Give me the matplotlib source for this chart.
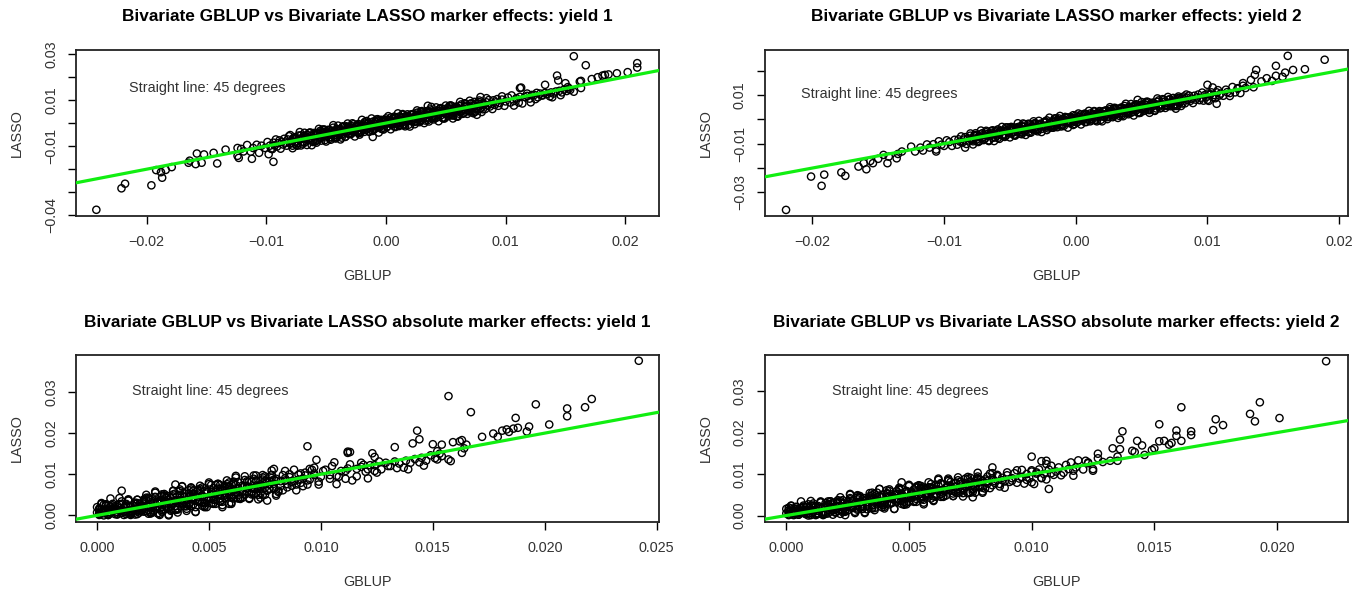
import numpy as np
import matplotlib
matplotlib.use("Agg")
import matplotlib.pyplot as plt

plt.rcParams['font.family'] = ['Liberation Sans', 'DejaVu Sans']

# ---------------------------------------------------------------
# Data: marker effects, in units of 1e-4
# (GBLUP, LASSO) pairs
# ---------------------------------------------------------------
UNIT = 1e-4

YIELD1_BAND = [
    (-124, -142), (-121, -112), (-119, -123), (-116, -95), (-113, -124), (-111, -108), (-108, -94),
    (-106, -129), (-104, -98), (-101, -108), (-99, -82), (-97, -98), (-96, -111),
    (-95, -113), (-94, -85), (-93, -97), (-92, -71), (-91, -102), (-90, -87), (-89, -75), (-88, -111), (-87, -81), (-86, -93),
    (-85, -68), (-84, -85), (-83, -98), (-82, -71), (-81, -57), (-80, -89), (-79, -77), (-78, -98), (-77, -64), (-76, -81),
    (-75, -67), (-74, -87), (-73, -54), (-72, -72), (-71, -97), (-70, -65), (-69, -57), (-68, -85), (-67, -66), (-66, -50),
    (-65, -73), (-64, -42), (-63, -66), (-62, -55), (-61, -75), (-60, -50), (-59, -80), (-58, -76), (-57, -48), (-56, -60),
    (-55, -34), (-54, -65), (-53, -50), (-52, -38), (-51, -74), (-50, -44), (-49, -56), (-48, -31), (-47, -48), (-46, -61),
    (-45, -34), (-44, -20), (-43, -52), (-42, -40), (-41, -61), (-40, -27), (-39, -44), (-38, -30), (-37, -50), (-36, -17),
    (-35, -35), (-34, -60), (-33, -28), (-32, -20), (-31, -48), (-30, -29), (-29, -13), (-28, -36), (-27, -5), (-26, -29),
    (-25, -18), (-24, -38), (-23, -13), (-22, -43), (-21, -39), (-20, -11), (-19, -23), (-18, 3), (-17, -28), (-16, -13),
    (-15, -1), (-14, -37), (-13, -7), (-12, -19), (-11, 6), (-10, -11), (-9, -24), (-8, 3), (-7, 17), (-6, -15),
    (-5, -3), (-4, -24), (-3, 10), (-2, -7), (-1, 7),
    (-61, -82), (-59, -49), (-57, -71), (-55, -48), (-53, -56), (-51, -29), (-49, -57), (-47, -31), (-45, -44), (-43, -60),
    (-41, -29), (-39, -34), (-37, -63), (-35, -35), (-33, -14), (-31, -44), (-29, -21), (-27, -32), (-25, -12), (-23, -43),
    (-21, -19), (-19, -28), (-17, 7), (-15, -4), (-13, -28), (-11, -12), (-9, 8), (-7, -14), (-5, 1), (-3, -26), (-1, 13),
    (-80, -52), (-78, -109), (-76, -61), (-74, -98), (-72, -39), (-70, -89), (-68, -42), (-66, -95), (-64, -43), (-62, -96),
    (-60, -43), (-58, -85), (-56, -25), (-54, -76), (-52, -28), (-50, -80), (-48, -29), (-46, -72), (-44, -9), (-42, -63),
    (-40, -11), (-38, -71), (-36, -14), (-34, -59), (-32, -2), (-30, -48), (-28, -1), (-26, -58), (-24, -8), (-22, -50),
    (-20, 14), (-18, -38), (-16, 9), (-14, -37), (-12, 20), (-10, -27), (-8, 15), (-6, -41), (-4, 14), (-2, -28), (0, 20),
    (-79, -87), (-77, -65), (-75, -95), (-73, -69), (-71, -53), (-69, -82), (-67, -58), (-65, -68), (-63, -41), (-61, -77),
    (-59, -58), (-57, -43), (-55, -65), (-53, -28), (-51, -57), (-49, -42), (-47, -68), (-45, -34), (-43, -44), (-41, -25),
    (-39, -53), (-37, -34), (-35, -15), (-33, -42), (-31, -18), (-29, -47), (-27, -21), (-25, -29), (-23, -4), (-21, -32),
    (-19, -17), (-17, -2), (-15, -22), (-13, -3), (-11, -34), (-9, -4), (-7, 10), (-5, -17), (-3, 5), (-1, -3),
    (0, 7), (1, -15), (2, 14), (3, 0), (4, 24), (5, -4), (6, 7), (7, -15), (8, 22), (9, 2),
    (10, 13), (11, 28), (12, -1), (13, 11), (14, 36), (15, -5), (16, 24), (17, 12), (18, 30), (19, -7),
    (20, 24), (21, 36), (22, 10), (23, 21), (24, 5), (25, 34), (26, 45), (27, 18), (28, 28), (29, 13),
    (30, 47), (31, 27), (32, 38), (33, 11), (34, 46), (35, 22), (36, 36), (37, 59), (38, 27), (39, 46),
    (40, 22), (41, 45), (42, 23), (43, 52), (44, 38), (45, 62), (46, 34), (47, 45), (48, 23), (49, 61),
    (50, 40), (51, 51), (52, 66), (53, 37), (54, 49), (55, 74), (56, 33), (57, 62), (58, 50), (59, 68),
    (60, 31), (61, 62), (62, 74), (63, 49), (64, 60), (65, 43), (66, 72), (67, 83), (68, 56), (69, 66),
    (70, 51), (71, 85), (72, 65), (73, 76), (74, 49), (75, 84), (76, 60), (77, 75), (78, 98), (79, 65),
    (80, 84), (81, 60), (82, 83), (83, 61), (84, 90), (85, 76), (86, 100), (87, 72), (88, 83), (89, 61),
    (90, 99), (91, 79), (92, 90), (93, 104), (94, 75), (95, 87),
    (1, -17), (3, 12), (5, 1), (7, 28), (9, -3), (11, 13), (13, 26), (15, -9), (17, 22), (19, 11),
    (21, 37), (23, 20), (25, 8), (27, 36), (29, 51), (31, 20), (33, 33), (35, 13), (37, 47), (39, 31),
    (41, 46), (43, 27), (45, 61), (47, 44), (49, 20), (51, 52), (53, 61), (55, 34), (57, 54), (59, 71), (61, 49),
    (2, 30), (4, -27), (6, 21), (8, -17), (10, 42), (12, -8), (14, 39), (16, -14), (18, 38), (20, -15),
    (22, 37), (24, -5), (26, 55), (28, 4), (30, 52), (32, 0), (34, 51), (36, 7), (38, 70), (40, 16),
    (42, 68), (44, 8), (46, 65), (48, 20), (50, 76), (52, 30), (54, 77), (56, 20), (58, 70), (60, 28),
    (62, 92), (64, 40), (66, 86), (68, 40), (70, 97), (72, 50), (74, 92), (76, 36), (78, 91), (80, 48),
    (1, -1), (3, 11), (5, -7), (7, 24), (9, 13), (11, -13), (13, 22), (15, 7), (17, 31), (19, 20),
    (21, 9), (23, 40), (25, 19), (27, 31), (29, 9), (31, 42), (33, 22), (35, 53), (37, 37), (39, 22),
    (41, 54), (43, 39), (45, 53), (47, 23), (49, 53), (51, 41), (53, 74), (55, 41), (57, 67), (59, 56),
    (61, 41), (63, 81), (65, 57), (67, 71), (69, 51), (71, 84), (73, 72), (75, 50), (77, 84), (79, 65),
    (97, 102), (99, 75), (100, 94), (102, 111), (104, 89), (105, 120), (107, 96), (109, 108), (111, 89), (112, 114),
    (114, 85), (116, 113), (118, 128), (120, 106), (122, 122), (125, 104),
    (118, 118), (124, 122), (127, 112), (129, 128), (131, 120), (133, 131), (135, 126), (138, 133), (140, 128),
    (142, 137), (145, 140), (147, 133), (149, 146), (151, 139), (153, 150), (146, 121), (139, 112), (126, 131),
]

YIELD1_OUTLIERS = [
    (-242, -376), (-221, -283), (-218, -263), (-196, -270), (-192, -204), (-187, -237), (-188, -213), (-179, -191),
    (-184, -203), (-165, -172), (-164, -163), (-159, -178), (-158, -132), (-154, -172), (-152, -136), (-144, -129),
    (-141, -175), (-134, -115), (-124, -108), (-123, -151), (-112, -155), (-98, -135), (-94, -168), (-42, -67), (-11, -60),
    (157, 290), (167, 251), (210, 260), (210, 241), (202, 221), (193, 216), (186, 211), (183, 209), (181, 206), (177, 199),
    (172, 191), (163, 183), (162, 180), (143, 206), (144, 185), (133, 166), (112, 152), (121, 90), (137, 116), (152, 156),
    (154, 144), (163, 152), (157, 136), (150, 173), (97, 116), (79, 113), (84, 108), (107, 76), (59, 28), (35, 75),
    (130, 120), (113, 154), (73, 43),
]

YIELD2_BAND = [
    (-92, -84), (-94, -109), (-96, -93), (-98, -86), (-100, -109), (-102, -104), (-104, -90), (-106, -124), (-108, -102),
    (-111, -116), (-113, -103), (-116, -128), (-118, -116),
    (-90, -104), (-89, -82), (-88, -91), (-87, -70), (-86, -95), (-85, -83), (-84, -73), (-83, -101), (-82, -77), (-81, -87),
    (-80, -67), (-79, -80), (-78, -90), (-77, -68), (-76, -57), (-75, -82), (-74, -73), (-73, -89), (-72, -62), (-71, -75),
    (-70, -64), (-69, -79), (-68, -53), (-67, -67), (-66, -86), (-65, -61), (-64, -55), (-63, -76), (-62, -61), (-61, -49),
    (-60, -66), (-59, -41), (-58, -60), (-57, -52), (-56, -67), (-55, -47), (-54, -71), (-53, -67), (-52, -45), (-51, -54),
    (-50, -33), (-49, -58), (-48, -46), (-47, -36), (-46, -64), (-45, -40), (-44, -50), (-43, -30), (-42, -43), (-41, -53),
    (-40, -31), (-39, -20), (-38, -45), (-37, -36), (-36, -52), (-35, -25), (-34, -38), (-33, -27), (-32, -42), (-31, -16),
    (-30, -30), (-29, -49), (-28, -24), (-27, -18), (-26, -39), (-25, -24), (-24, -12), (-23, -29), (-22, -4), (-21, -23),
    (-20, -15), (-19, -30), (-18, -10), (-17, -34), (-16, -30), (-15, -8), (-14, -17), (-13, 4), (-12, -21), (-11, -9),
    (-10, 1), (-9, -27), (-8, -3), (-7, -13), (-6, 7), (-5, -6), (-4, -16), (-3, 6), (-2, 17), (-1, -8),
    (-59, -76), (-57, -49), (-55, -66), (-53, -48), (-51, -53), (-49, -31), (-47, -53), (-45, -33), (-43, -42), (-41, -54),
    (-39, -30), (-37, -33), (-35, -55), (-33, -33), (-31, -16), (-29, -39), (-27, -21), (-25, -29), (-23, -13), (-21, -37),
    (-19, -18), (-17, -24), (-15, 4), (-13, -4), (-11, -23), (-9, -10), (-7, 6), (-5, -11), (-3, 2), (-1, -19),
    (-80, -58), (-78, -103), (-76, -64), (-74, -93), (-72, -46), (-70, -85), (-68, -47), (-66, -89), (-64, -47), (-62, -89),
    (-60, -46), (-58, -80), (-56, -31), (-54, -72), (-52, -33), (-50, -74), (-48, -33), (-46, -67), (-44, -16), (-42, -59),
    (-40, -17), (-38, -64), (-36, -18), (-34, -54), (-32, -8), (-30, -44), (-28, -6), (-26, -52), (-24, -11), (-22, -44),
    (-20, 7), (-18, -34), (-16, 4), (-14, -32), (-12, 14), (-10, -24), (-8, 10), (-6, -34), (-4, 10), (-2, -23), (0, 16),
    (-79, -85), (-77, -67), (-75, -91), (-73, -70), (-71, -57), (-69, -79), (-67, -60), (-65, -67), (-63, -45), (-61, -74),
    (-59, -58), (-57, -46), (-55, -63), (-53, -33), (-51, -56), (-49, -43), (-47, -64), (-45, -36), (-43, -44), (-41, -28),
    (-39, -50), (-37, -35), (-35, -19), (-33, -40), (-31, -21), (-29, -43), (-27, -22), (-25, -28), (-23, -8), (-21, -30),
    (-19, -17), (-17, -5), (-15, -21), (-13, -5), (-11, -29), (-9, -5), (-7, 7), (-5, -15), (-3, 3), (-1, -3),
    (0, 5), (1, -12), (2, 12), (3, 1), (4, 20), (5, -2), (6, 7), (7, -11), (8, 20), (9, 4),
    (10, 12), (11, 24), (12, 1), (13, 11), (14, 32), (15, -1), (16, 22), (17, 13), (18, 28), (19, -2),
    (20, 23), (21, 33), (22, 13), (23, 22), (24, 9), (25, 33), (26, 42), (27, 20), (28, 29), (29, 17),
    (30, 43), (31, 27), (32, 36), (33, 15), (34, 43), (35, 24), (36, 37), (37, 55), (38, 30), (39, 45),
    (40, 26), (41, 44), (42, 27), (43, 51), (44, 40), (45, 59), (46, 37), (47, 46), (48, 28), (49, 59),
    (50, 42), (51, 51), (52, 63), (53, 40), (54, 50), (55, 71), (56, 38), (57, 61), (58, 52), (59, 67),
    (60, 37), (61, 62), (62, 72), (63, 52), (64, 61), (65, 48), (66, 72), (67, 81), (68, 59), (69, 68),
    (70, 55), (71, 82), (72, 66), (73, 75), (74, 54), (75, 82), (76, 63), (77, 76), (78, 94), (79, 69),
    (80, 84), (81, 65), (82, 83), (83, 66), (84, 90), (85, 79), (86, 98), (87, 76), (88, 85), (89, 67),
    (90, 97), (91, 81), (92, 90), (93, 102), (94, 79), (95, 89), (96, 110), (97, 77), (98, 100), (99, 91),
    (100, 106), (101, 76), (102, 101), (103, 111), (104, 91), (105, 100), (106, 87), (107, 111), (108, 120),
    (109, 98), (110, 106),
    (1, -13), (3, 10), (5, 2), (7, 24), (9, 0), (11, 12), (13, 23), (15, -4), (17, 21), (19, 12),
    (21, 33), (23, 21), (25, 12), (27, 35), (29, 47), (31, 22), (33, 32), (35, 17), (37, 45), (39, 33),
    (41, 45), (43, 31), (45, 58), (47, 45), (49, 27), (51, 52), (53, 59), (55, 39), (57, 55), (59, 68),
    (2, 24), (4, -21), (6, 18), (8, -11), (10, 35), (12, -4), (14, 34), (16, -8), (18, 34), (20, -8),
    (22, 35), (24, 1), (26, 50), (28, 9), (30, 47), (32, 6), (34, 47), (36, 13), (38, 64), (40, 21),
    (42, 63), (44, 16), (46, 62), (48, 26), (50, 71), (52, 35), (54, 73), (56, 27), (58, 68), (60, 35),
    (62, 86), (64, 45), (66, 83), (68, 47), (70, 92), (72, 54), (74, 88), (76, 44), (78, 88), (80, 55),
    (82, 94), (84, 102),
    (1, -1), (3, 9), (5, -5), (7, 21), (9, 13), (11, -8), (13, 20), (15, 8), (17, 28), (19, 20),
    (21, 11), (23, 37), (25, 21), (27, 31), (29, 14), (31, 39), (33, 24), (35, 49), (37, 37), (39, 26),
    (41, 52), (43, 40), (45, 52), (47, 28), (49, 53), (51, 43), (53, 70), (55, 44), (57, 65), (59, 57),
    (61, 45), (63, 78), (65, 60), (67, 71), (69, 56), (71, 81), (73, 72), (75, 55), (77, 83), (79, 69),
    (112, 97), (114, 122), (115, 112), (117, 96), (119, 133), (121, 111), (123, 126), (125, 108), (127, 138), (129, 129),
]

YIELD2_OUTLIERS = [
    (-220, -372), (-201, -235), (-191, -227), (-193, -273), (-178, -218), (-175, -232), (-165, -194), (-161, -180),
    (-159, -205), (-156, -171), (-154, -180), (-150, -162), (-146, -146), (-143, -180), (-142, -153), (-136, -160),
    (-135, -142), (-132, -132), (-125, -112), (-122, -132), (-106, -132), (-84, -116), (-41, -61),
    (161, 261), (189, 245), (174, 206), (165, 203), (159, 192), (152, 220), (152, 179), (157, 175), (149, 158),
    (145, 169), (141, 156), (137, 203), (136, 183), (133, 162), (135, 132), (127, 149), (123, 128), (117, 108),
    (100, 142), (104, 131), (47, 80), (77, 55), (100, 80), (107, 64),
]

TITLES = [
    "Bivariate GBLUP vs Bivariate LASSO marker effects: yield 1",
    "Bivariate GBLUP vs Bivariate LASSO marker effects: yield 2",
    "Bivariate GBLUP vs Bivariate LASSO absolute marker effects: yield 1",
    "Bivariate GBLUP vs Bivariate LASSO absolute marker effects: yield 2",
]
NOTE = "Straight line: 45 degrees"
XLABEL = "GBLUP"
YLABEL = "LASSO"

XTICKS_SIGNED = [-0.02, -0.01, 0.0, 0.01, 0.02]
XTICKLABELS_SIGNED = ["\u22120.02", "\u22120.01", "0.00", "0.01", "0.02"]
YTICKS_1 = [-0.04, -0.03, -0.02, -0.01, 0.0, 0.01, 0.02, 0.03]
YTICKLABELS_1 = ["\u22120.04", "", "", "\u22120.01", "", "0.01", "", "0.03"]
YTICKS_2 = [-0.03, -0.02, -0.01, 0.0, 0.01, 0.02]
YTICKLABELS_2 = ["\u22120.03", "", "\u22120.01", "", "0.01", ""]
XTICKS_ABS_1 = [0.0, 0.005, 0.010, 0.015, 0.020, 0.025]
XTICKLABELS_ABS_1 = ["0.000", "0.005", "0.010", "0.015", "0.020", "0.025"]
XTICKS_ABS_2 = [0.0, 0.005, 0.010, 0.015, 0.020]
XTICKLABELS_ABS_2 = ["0.000", "0.005", "0.010", "0.015", "0.020"]
YTICKS_ABS = [0.0, 0.01, 0.02, 0.03]
YTICKLABELS_ABS = ["0.00", "0.01", "0.02", "0.03"]


def to_arrays(pairs):
    a = np.array(pairs, dtype=float) * UNIT
    return a[:, 0], a[:, 1]


g1, l1 = to_arrays(YIELD1_BAND + YIELD1_OUTLIERS)
g2, l2 = to_arrays(YIELD2_BAND + YIELD2_OUTLIERS)

W, H = 1369, 592
fig = plt.figure(figsize=(W / 100, H / 100), dpi=100)
fig.patch.set_facecolor("white")

# pixel boxes: left, top, right, bottom
panels = [
    dict(x=g1, y=l1, box=(76, 50, 659, 216), xlim=(-0.0259, 0.02282), ylim=(-0.0403, 0.0317),
         xt=XTICKS_SIGNED, xtl=XTICKLABELS_SIGNED, yt=YTICKS_1, ytl=YTICKLABELS_1,
         title=TITLES[0], note=(0.0914, 0.769)),
    dict(x=g2, y=l2, box=(764.7, 50, 1347.7, 216), xlim=(-0.02362, 0.02065), ylim=(-0.0397, 0.0285),
         xt=XTICKS_SIGNED, xtl=XTICKLABELS_SIGNED, yt=YTICKS_2, ytl=YTICKLABELS_2,
         title=TITLES[1], note=(0.0623, 0.735)),
    dict(x=np.abs(g1), y=np.abs(l1), box=(76, 355, 658.7, 521.7), xlim=(-0.00094, 0.02509), ylim=(-0.00154, 0.039),
         xt=XTICKS_ABS_1, xtl=XTICKLABELS_ABS_1, yt=YTICKS_ABS, ytl=YTICKLABELS_ABS,
         title=TITLES[2], note=(0.0966, 0.782)),
    dict(x=np.abs(g2), y=np.abs(l2), box=(764.7, 355, 1347.7, 521.7), xlim=(-0.00088, 0.02288), ylim=(-0.00149, 0.0387),
         xt=XTICKS_ABS_2, xtl=XTICKLABELS_ABS_2, yt=YTICKS_ABS, ytl=YTICKLABELS_ABS,
         title=TITLES[3], note=(0.1149, 0.784)),
]

TXT = "#333333"
FS = 10.4

for p in panels:
    L, T, R, B = p["box"]
    ax = fig.add_axes([L / W, (H - B) / H, (R - L) / W, (B - T) / H])
    ax.scatter(p["x"], p["y"], s=27, facecolors="none", edgecolors="black", linewidths=1.0, zorder=2)
    ax.axline((0.0, 0.0), slope=1.0, color="#11ee11", lw=2.3, zorder=3)
    ax.set_xlim(*p["xlim"])
    ax.set_ylim(*p["ylim"])
    ax.set_xticks(p["xt"])
    ax.set_xticklabels(p["xtl"])
    ax.set_yticks(p["yt"])
    ax.set_yticklabels(p["ytl"], rotation=90, va="center")
    ax.tick_params(axis="both", direction="out", length=5.8, width=1.0, colors="black",
                   labelcolor=TXT, labelsize=FS)
    ax.tick_params(axis="x", pad=8)
    ax.tick_params(axis="y", pad=7)
    for sp in ax.spines.values():
        sp.set_linewidth(1.3)
        sp.set_color("#222222")
    ax.text(p["note"][0], p["note"][1], NOTE, transform=ax.transAxes, ha="left", va="center",
            fontsize=FS, color=TXT)
    cx = (L + R) / 2
    fig.text(cx / W, 1 - (T - 33) / H, p["title"], ha="center", va="center",
             fontsize=12.4, fontweight="bold", color="black")
    fig.text(cx / W, 1 - (B + 60) / H, XLABEL, ha="center", va="center", fontsize=FS, color=TXT)
    fig.text((L - 59) / W, 1 - ((T + B) / 2) / H, YLABEL, ha="center", va="center",
             rotation=90, fontsize=FS, color=TXT)

fig.savefig("out.png", dpi=100, facecolor="white")
